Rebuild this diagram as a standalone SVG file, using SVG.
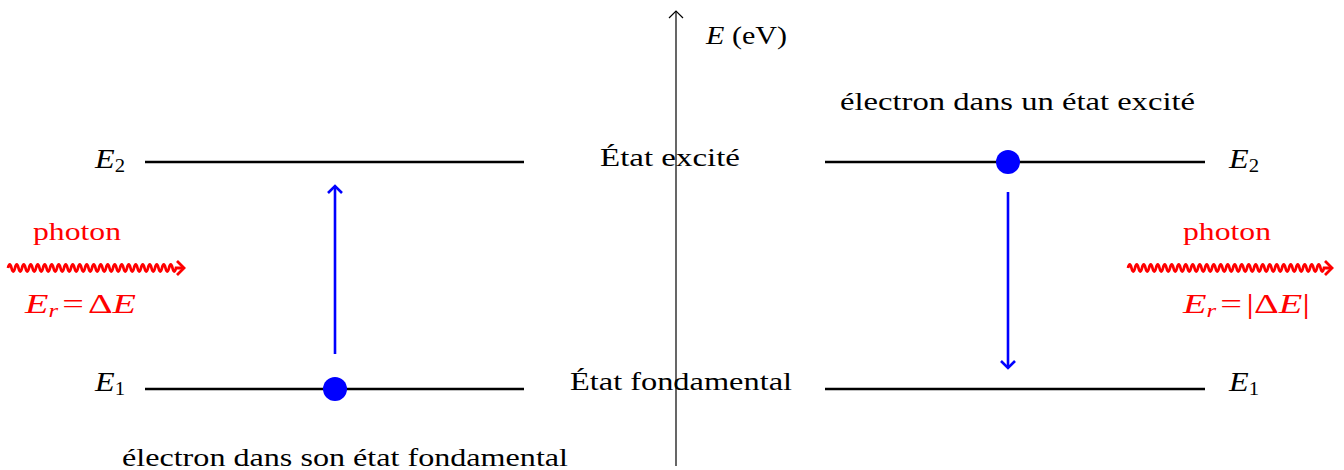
<svg xmlns="http://www.w3.org/2000/svg" width="1344" height="470" viewBox="0 0 1344 470">
<style>
text{font-family:"Liberation Serif","DejaVu Serif",serif;font-size:26px;fill:#000}
.red{fill:#ff0000}
.it{font-style:italic}
.sub{font-size:18px}
.m{font-size:28px}
.lvl{stroke:#000;stroke-width:2.6;fill:none}
.blue{stroke:#0000ff;stroke-width:2.6;fill:none}
.wave{stroke:#ff0000;stroke-width:2.8;fill:none}
</style>
<defs>
<marker id="bh" viewBox="0 0 20 20" refX="10" refY="10" markerWidth="20" markerHeight="20" markerUnits="userSpaceOnUse" orient="auto">
<path d="M3 3 L10 10 L3 17" stroke="#0000ff" stroke-width="2.6" fill="none"/>
</marker>
<marker id="rh" viewBox="0 0 20 20" refX="10" refY="10" markerWidth="20" markerHeight="20" markerUnits="userSpaceOnUse" orient="auto">
<path d="M3 3 L10 10 L3 17" stroke="#ff0000" stroke-width="2.8" fill="none"/>
</marker>
<marker id="ah" viewBox="0 0 20 20" refX="10" refY="10" markerWidth="20" markerHeight="20" markerUnits="userSpaceOnUse" orient="auto">
<path d="M3 3 L10 10 L3 17" stroke="#000" stroke-width="1.2" fill="none"/>
</marker>
</defs>

<g id="axis">
<line x1="676" y1="466" x2="676" y2="11" stroke="#000" stroke-width="1.2" marker-end="url(#ah)"/>
<text x="706" y="44" textLength="81" lengthAdjust="spacingAndGlyphs"><tspan class="it">E</tspan> (eV)</text>
</g>

<g id="left-E2">
<line class="lvl" x1="145" y1="162" x2="524" y2="162"/>
<text class="m" x="95" y="168" textLength="30" lengthAdjust="spacingAndGlyphs"><tspan class="it">E</tspan><tspan class="sub" dy="4">2</tspan></text>
</g>
<g id="left-E1">
<line class="lvl" x1="145" y1="389" x2="524" y2="389"/>
<text class="m" x="95" y="391" textLength="30" lengthAdjust="spacingAndGlyphs"><tspan class="it">E</tspan><tspan class="sub" dy="4">1</tspan></text>
</g>
<g id="right-E2">
<line class="lvl" x1="825" y1="162" x2="1205" y2="162"/>
<text class="m" x="1229" y="168" textLength="30" lengthAdjust="spacingAndGlyphs"><tspan class="it">E</tspan><tspan class="sub" dy="4">2</tspan></text>
</g>
<g id="right-E1">
<line class="lvl" x1="825" y1="389" x2="1205" y2="389"/>
<text class="m" x="1229" y="391" textLength="30" lengthAdjust="spacingAndGlyphs"><tspan class="it">E</tspan><tspan class="sub" dy="4">1</tspan></text>
</g>

<g id="state-labels">
<text x="600" y="166" textLength="140" lengthAdjust="spacingAndGlyphs">État excité</text>
<text x="570" y="390" textLength="222" lengthAdjust="spacingAndGlyphs">État fondamental</text>
<text x="840" y="110" textLength="355" lengthAdjust="spacingAndGlyphs">électron dans un état excité</text>
<text x="122" y="466" textLength="446" lengthAdjust="spacingAndGlyphs">électron dans son état fondamental</text>
</g>

<g id="electron-left">
<circle cx="335" cy="389" r="12" fill="#0000ff"/>
</g>
<g id="electron-right">
<circle cx="1008" cy="162" r="12" fill="#0000ff"/>
</g>

<g id="photon-left">
<text class="red" x="33" y="240" textLength="88" lengthAdjust="spacingAndGlyphs">photon</text>
<text class="red m" x="25" y="313" textLength="111" lengthAdjust="spacingAndGlyphs"><tspan class="it">E</tspan><tspan class="sub it" dy="4">r</tspan><tspan dy="-4" dx="3">=</tspan><tspan dx="3">Δ</tspan><tspan class="it">E</tspan></text>
</g>
<g id="photon-right">
<text class="red" x="1183" y="240" textLength="88" lengthAdjust="spacingAndGlyphs">photon</text>
<text class="red m" x="1183" y="313" textLength="127" lengthAdjust="spacingAndGlyphs"><tspan class="it">E</tspan><tspan class="sub it" dy="4">r</tspan><tspan dy="-4" dx="3">=</tspan><tspan dx="3">|Δ</tspan><tspan class="it">E</tspan>|</text>
</g>

<g id="connectors">
<line class="blue" x1="335" y1="354" x2="335" y2="186" marker-end="url(#bh)"/>
<line class="blue" x1="1008" y1="192" x2="1008" y2="368" marker-end="url(#bh)"/>
<path class="wave" marker-end="url(#rh)" d="M8 268 q1.75 -7 3.5 0 t3.5 0 t3.5 0 t3.5 0 t3.5 0 t3.5 0 t3.5 0 t3.5 0 t3.5 0 t3.5 0 t3.5 0 t3.5 0 t3.5 0 t3.5 0 t3.5 0 t3.5 0 t3.5 0 t3.5 0 t3.5 0 t3.5 0 t3.5 0 t3.5 0 t3.5 0 t3.5 0 t3.5 0 t3.5 0 t3.5 0 t3.5 0 t3.5 0 t3.5 0 t3.5 0 t3.5 0 t3.5 0 t3.5 0 t3.5 0 t3.5 0 t3.5 0 t3.5 0 t3.5 0 t3.5 0 t3.5 0 t3.5 0 t3.5 0 t3.5 0 t3.5 0 t3.5 0 t3.5 0 t3.5 0 l8 0"/>
<path class="wave" marker-end="url(#rh)" d="M1128 268 q1.75 -7 3.5 0 t3.5 0 t3.5 0 t3.5 0 t3.5 0 t3.5 0 t3.5 0 t3.5 0 t3.5 0 t3.5 0 t3.5 0 t3.5 0 t3.5 0 t3.5 0 t3.5 0 t3.5 0 t3.5 0 t3.5 0 t3.5 0 t3.5 0 t3.5 0 t3.5 0 t3.5 0 t3.5 0 t3.5 0 t3.5 0 t3.5 0 t3.5 0 t3.5 0 t3.5 0 t3.5 0 t3.5 0 t3.5 0 t3.5 0 t3.5 0 t3.5 0 t3.5 0 t3.5 0 t3.5 0 t3.5 0 t3.5 0 t3.5 0 t3.5 0 t3.5 0 t3.5 0 t3.5 0 t3.5 0 t3.5 0 t3.5 0 t3.5 0 t3.5 0 t3.5 0 t3.5 0 t3.5 0 t3.5 0 t3.5 0 l8 0"/>
</g>
</svg>
